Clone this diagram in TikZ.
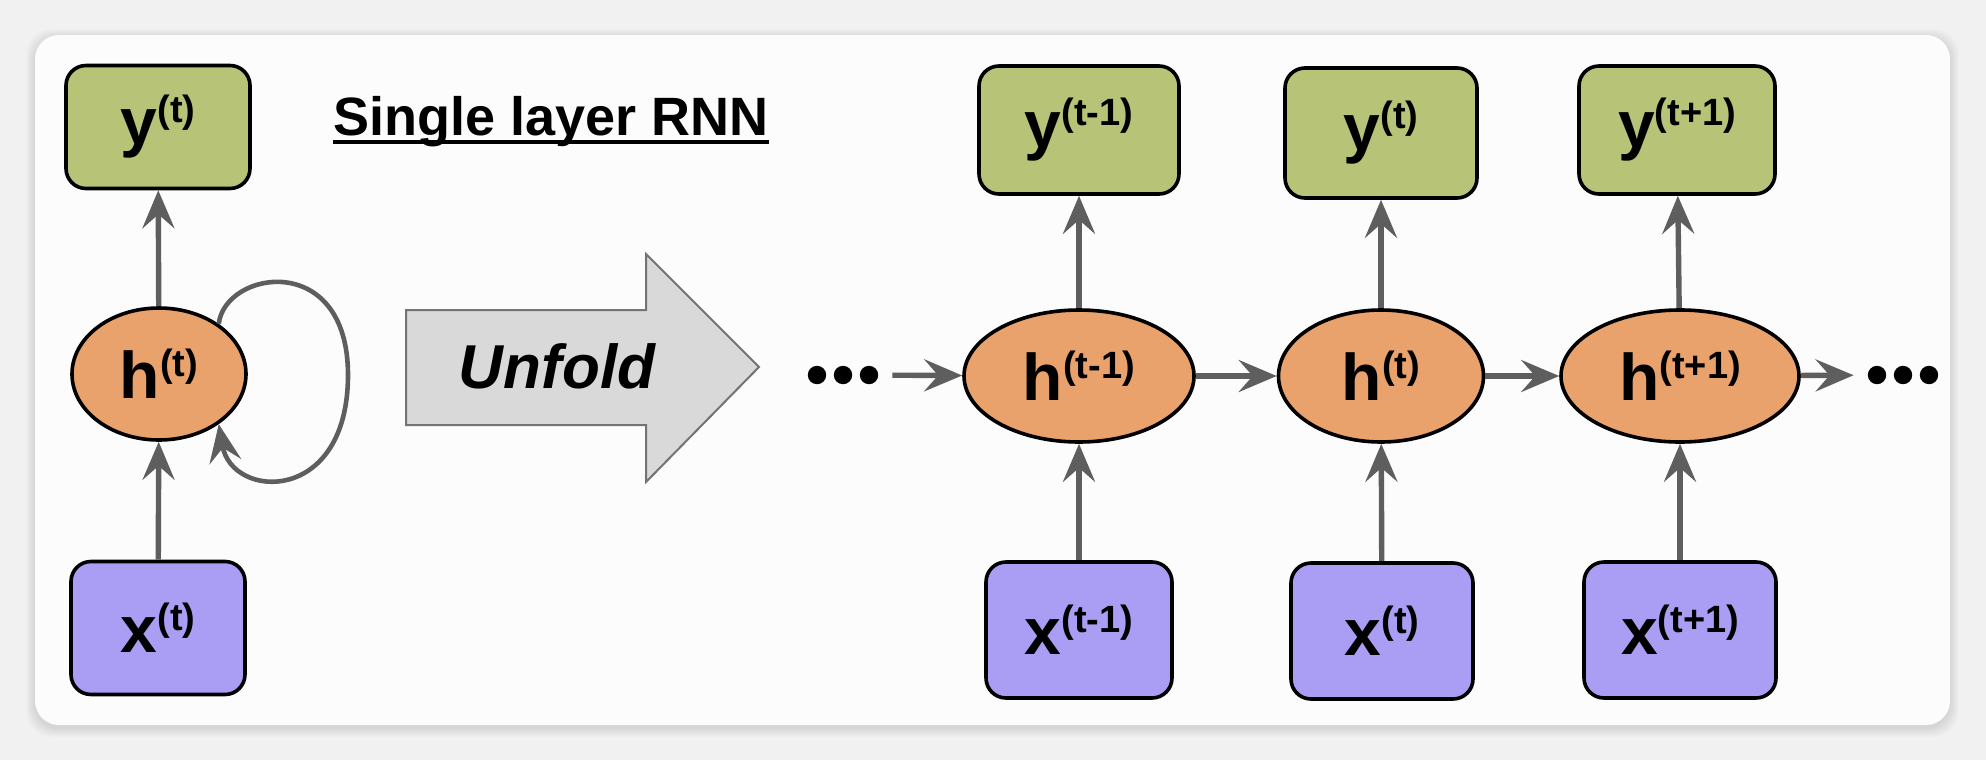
\documentclass[tikz,border=0pt]{standalone}
\usepackage{fontspec}
\setmainfont{Liberation Sans}
\usetikzlibrary{arrows.meta,shapes.geometric}

\definecolor{pagebg}{RGB}{241,241,241}
\definecolor{cardbg}{RGB}{252,252,252}
\definecolor{ygreen}{RGB}{183,195,118}
\definecolor{xviolet}{RGB}{170,158,244}
\definecolor{horange}{RGB}{233,162,108}
\definecolor{linkgray}{RGB}{94,94,94}
\definecolor{unfoldgray}{RGB}{217,217,217}

% symbol with a time index
\newcommand{\lab}[2]{#1\raisebox{11pt}{\fontsize{19}{19}\selectfont(#2)}}

\tikzset{
  cell/.style={draw, line width=1.8pt, inner sep=0pt,
    font=\fontsize{33}{33}\selectfont\bfseries},
  ybox/.style={cell, rounded corners=10pt, fill=ygreen,
    minimum width=97pt, minimum height=64pt},
  xbox/.style={cell, rounded corners=10pt, fill=xviolet,
    minimum width=93pt, minimum height=68pt},
  hcell/.style={cell, ellipse, fill=horange,
    minimum width=115pt, minimum height=66pt},
  link/.style={draw=linkgray, line width=2.7pt,
    -{Stealth[length=19pt,width=16pt,inset=7pt]}},
  dotrow/.style={minimum width=37pt, minimum height=10pt, inner sep=0pt},
}

\begin{document}
\begin{tikzpicture}[x=0.5pt,y=-0.5pt]

% Page and card
\useasboundingbox (0,0) rectangle (1986,760);
\fill[pagebg] (0,0) rectangle (1986,760);
\foreach \s in {1,...,9}
  \fill[black,opacity=0.011,rounded corners=13pt]
    (35-\s,35-\s+3) rectangle (1950+\s,725+\s+3);
\fill[cardbg,rounded corners=12pt] (35,35) rectangle (1950,725);

% ---- Folded RNN ----
\node[ybox, minimum width=92pt, minimum height=61.5pt] (y0) at (158,127) {\lab{y}{t}};
\node[hcell, minimum width=87pt] (h0) at (159,374) {\lab{h}{t}};
\node[xbox, minimum width=87pt, minimum height=66.5pt] (x0) at (158,628) {\lab{x}{t}};

\draw[link] (x0) -- (h0);
\draw[link] (h0) -- (y0);
% recurrence loop
\draw[link, line width=2.3pt] (h0.40) .. controls (225,270) and (348,250) .. (348,375)
  .. controls (348,505) and (232,500) .. (h0.-40);

% Title
\node[anchor=base, inner sep=0pt, font=\fontsize{27}{27}\selectfont\bfseries]
  (ttl) at (551,135) {Single layer RNN};
\draw[line width=2pt] ([yshift=-3.5pt]ttl.base west) -- ([yshift=-3.5pt]ttl.base east);

% Unfold arrow
\draw[fill=unfoldgray, draw=gray!90!black, line width=1pt]
  (406,310) -- (646,310) -- (646,254) -- (759,367) -- (646,482) -- (646,425) -- (406,425) -- cycle;
\node[anchor=base, inner sep=0pt, font=\fontsize{31}{31}\selectfont\bfseries\itshape]
  (unf) at (557,388) {Unfold};

% ---- Unfolded RNN ----
\node[ybox, minimum width=100pt] (y1) at (1079,130) {\lab{y}{t-1}};
\node[ybox, minimum width=96pt, minimum height=65pt] (y2) at (1381,133) {\lab{y}{t}};
\node[ybox, minimum width=98pt] (y3) at (1677,130) {\lab{y}{t+1}};

\node[hcell] (h1) at (1079,376) {\lab{h}{t-1}};
\node[hcell, minimum width=102.5pt] (h2) at (1381,376) {\lab{h}{t}};
\node[hcell, minimum width=119pt] (h3) at (1680,376) {\lab{h}{t+1}};

\node[xbox] (x1) at (1079,630) {\lab{x}{t-1}};
\node[xbox, minimum width=91pt] (x2) at (1382,631) {\lab{x}{t}};
\node[xbox, minimum width=96pt] (x3) at (1680,630) {\lab{x}{t+1}};

% dots at both ends
\node[dotrow] (dl) at (843,375) {};
\node[dotrow] (dr) at (1903,375) {};
\foreach \d in {-26,0,26} {
  \fill ([xshift=\d*0.5pt]dl.center) circle (4.6pt);
  \fill ([xshift=\d*0.5pt]dr.center) circle (4.6pt);
}

% Connections
\foreach \i in {1,2,3} {
  \draw[link] (x\i) -- (h\i);
  \draw[link] (h\i) -- (y\i);
}
\draw[link, shorten <=6pt] (dl) -- (h1);
\draw[link] (h1) -- (h2);
\draw[link] (h2) -- (h3);
\draw[link, shorten >=6pt] (h3) -- (dr);

\end{tikzpicture}
\end{document}
